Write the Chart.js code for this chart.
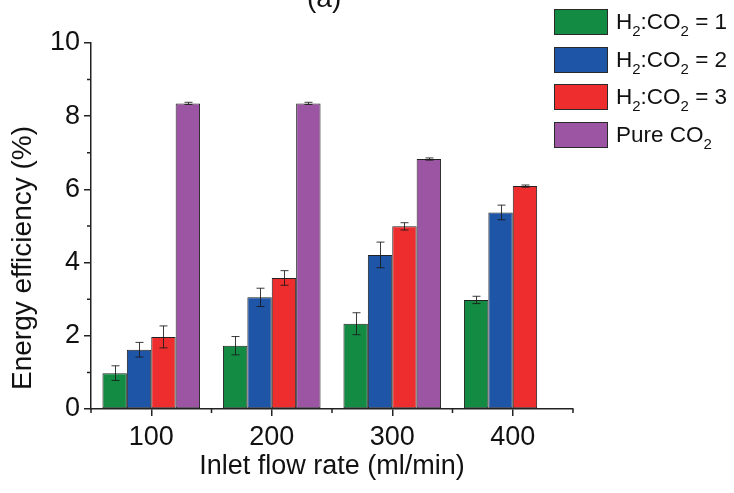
<!DOCTYPE html>
<html>
<head>
<meta charset="utf-8">
<script src="https://cdn.jsdelivr.net/npm/chart.js@4.4.1/dist/chart.umd.min.js"></script>
<style>
  body{margin:0;background:#fff}
  .wrap{position:relative;width:734px;height:493px;font-family:"Liberation Sans",Arial,sans-serif;color:#111}
  .ttl{position:absolute;left:307px;top:-18px;font-size:28px}
  .ytl{position:absolute;left:22px;top:258px;font-size:28px;white-space:nowrap;transform:translate(-50%,-50%) rotate(-90deg)}
  .lg{position:absolute;left:554px;top:9px}
  .lg-row{display:flex;align-items:center;height:26px;margin-bottom:11.7px;font-size:22.5px;white-space:nowrap}
  .lg-box{width:52px;height:24px;border:1px solid #2a2a2a;margin-right:8px;flex:none}
  .lg-row sub{font-size:15px;vertical-align:-7px;line-height:0}
</style>
</head>
<body>
<div class="wrap">
  <canvas id="c" width="734" height="493"></canvas>
  <div class="ttl">(a)</div>
  <div class="ytl">Energy efficiency (%)</div>
  <div class="lg">
    <div class="lg-row"><div class="lg-box" style="background:#138b43"></div><span>H<sub>2</sub>:CO<sub>2</sub> = 1</span></div>
    <div class="lg-row"><div class="lg-box" style="background:#1e55a7"></div><span>H<sub>2</sub>:CO<sub>2</sub> = 2</span></div>
    <div class="lg-row"><div class="lg-box" style="background:#ee2e2e"></div><span>H<sub>2</sub>:CO<sub>2</sub> = 3</span></div>
    <div class="lg-row"><div class="lg-box" style="background:#9b55a3"></div><span>Pure CO<sub>2</sub></span></div>
  </div>
</div>
<script>
const FLOW=['100','200','300','400']
const R1=[0.98,1.73,2.33,2.98], R1_ERR=[0.2,0.25,0.3,0.1]
const R2=[1.62,3.05,4.21,5.37], R2_ERR=[0.2,0.25,0.35,0.2]
const R3=[1.97,3.58,4.99,6.09], R3_ERR=[0.3,0.2,0.1,0.03]
const PURE=[8.35,8.35,6.83,null], PURE_ERR=[0.03,0.03,0.03,0]
const Y_MINOR=[1,3,5,7,9]

const ink='#222'
const font='"Liberation Sans", Arial, sans-serif'

// error bars on top of each bar
const errBars={
  id:'errBars',
  afterDatasetsDraw(chart){
    const {ctx,scales:{y}}=chart
    ctx.save()
    ctx.strokeStyle='rgba(25,25,25,0.85)'
    ctx.lineWidth=1
    chart.data.datasets.forEach((ds,di)=>{
      chart.getDatasetMeta(di).data.forEach((bar,i)=>{
        const v=ds.data[i],e=ds.err[i]
        if(v==null||!e) return
        const x=Math.round(bar.x)+0.5,y1=y.getPixelForValue(v+e),y2=y.getPixelForValue(v-e)
        ctx.beginPath()
        ctx.moveTo(x,y1);ctx.lineTo(x,y2)
        ctx.moveTo(x-4,y1);ctx.lineTo(x+4,y1)
        ctx.moveTo(x-4,y2);ctx.lineTo(x+4,y2)
        ctx.stroke()
      })
    })
    ctx.restore()
  }
}

// short minor ticks on both axes
const minorTicks={
  id:'minorTicks',
  afterDraw(chart){
    const {ctx,scales:{x,y},chartArea:a}=chart
    ctx.save()
    ctx.strokeStyle=ink
    ctx.lineWidth=1.5
    ctx.beginPath()
    Y_MINOR.forEach(v=>{const p=y.getPixelForValue(v);ctx.moveTo(a.left,p);ctx.lineTo(a.left-4,p)})
    for(let i=0;i<=FLOW.length;i++){const p=x.getPixelForValue(i-0.5);ctx.moveTo(p,a.bottom);ctx.lineTo(p,a.bottom+4)}
    ctx.stroke()
    ctx.restore()
  }
}

const bar=(label,data,err,color)=>({label,data,err,backgroundColor:color,borderColor:'#222',borderWidth:1,borderSkipped:false})

new Chart(document.getElementById('c'),{
  type:'bar',
  data:{labels:FLOW,datasets:[
    bar('H2:CO2 = 1',R1,R1_ERR,'#138b43'),
    bar('H2:CO2 = 2',R2,R2_ERR,'#1e55a7'),
    bar('H2:CO2 = 3',R3,R3_ERR,'#ee2e2e'),
    bar('Pure CO2',PURE,PURE_ERR,'#9b55a3'),
  ]},
  options:{
    responsive:false,animation:false,
    layout:{padding:{left:0,top:43,right:161,bottom:0}},
    datasets:{bar:{barPercentage:1,categoryPercentage:0.81}},
    plugins:{legend:{display:false},tooltip:{enabled:false}},
    scales:{
      x:{
        afterFit:s=>{s.height=84},
        grid:{offset:false,drawOnChartArea:false,tickLength:7,color:ink,lineWidth:1.5},
        border:{color:ink,width:1.5},
        ticks:{color:'#111',font:{family:font,size:27},padding:5},
        title:{display:true,text:'Inlet flow rate (ml/min)',color:'#111',font:{family:font,size:27},padding:{top:0,bottom:10}}
      },
      y:{
        min:0,max:10,
        afterFit:s=>{s.width=91},
        grid:{drawOnChartArea:false,tickLength:7,color:ink,lineWidth:1.5},
        border:{color:ink,width:1.5},
        ticks:{stepSize:2,color:'#111',font:{family:font,size:27},padding:4}
      }
    }
  },
  plugins:[errBars,minorTicks]
})
</script>
</body>
</html>
